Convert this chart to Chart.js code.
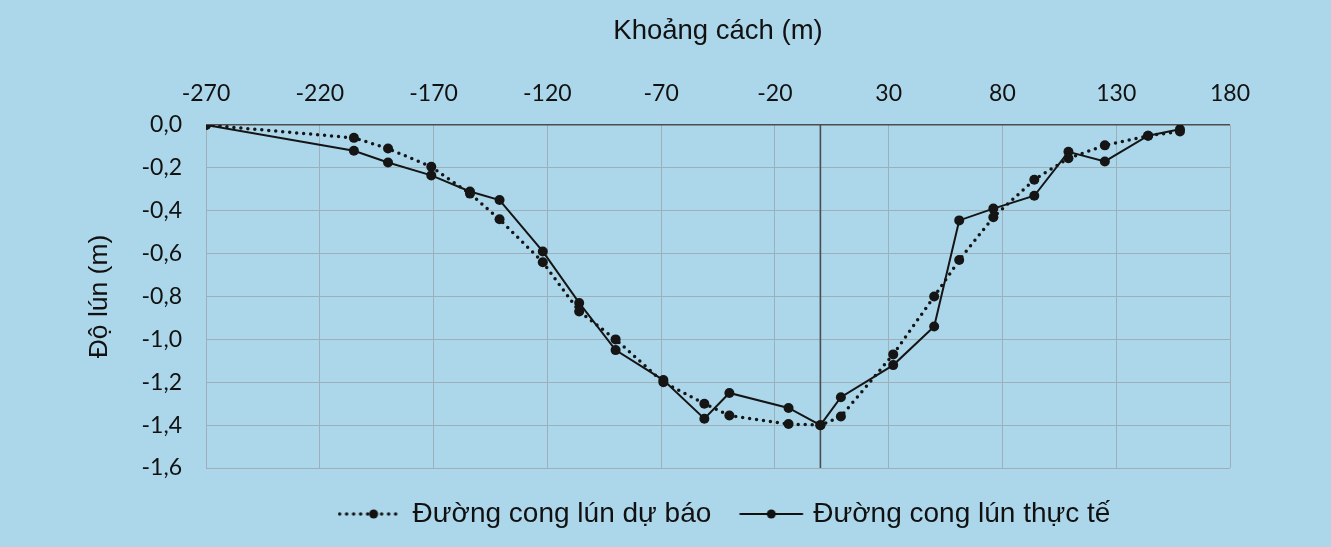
<!DOCTYPE html>
<html>
<head>
<meta charset="utf-8">
<script src="https://cdn.jsdelivr.net/npm/chart.js@4"></script>
<style>
  html, body { margin: 0; padding: 0; background: #acd7ea; }
  #wrap { width: 1331px; height: 547px; }
</style>
</head>
<body>
<div id="wrap"><canvas id="lunChart"></canvas></div>
<script>
// khoang cach (m) va do lun (m), doc tu hinh
const xTicks = [-270, -220, -170, -120, -70, -20, 30, 80, 130, 180];
const distances = [-270, -205, -190, -171, -154, -141, -122, -106, -90, -69, -51, -40, -14, 0, 9, 32, 50, 61, 76, 94, 109, 125, 144, 158];
const forecast = [0, -0.06, -0.11, -0.195, -0.32, -0.44, -0.64, -0.87, -1.0, -1.2, -1.30, -1.355, -1.395, -1.40, -1.36, -1.07, -0.80, -0.63, -0.43, -0.255, -0.155, -0.095, -0.05, -0.03];
const actual = [0, -0.12, -0.175, -0.235, -0.31, -0.35, -0.59, -0.83, -1.05, -1.19, -1.37, -1.25, -1.32, -1.40, -1.27, -1.12, -0.94, -0.445, -0.39, -0.33, -0.125, -0.17, -0.05, -0.02];

const toPoints = ys => distances.map((x, i) => ({ x: x, y: ys[i] }));

// small legend symbols: line + dot
function legendIcon(dotted) {
  const c = document.createElement('canvas');
  c.width = 66; c.height = 16;
  const g = c.getContext('2d');
  g.strokeStyle = '#111';
  g.lineCap = 'round';
  if (dotted) { g.setLineDash([0, 7]); g.lineWidth = 3.5; } else { g.lineWidth = 2; }
  g.beginPath(); g.moveTo(2, 8); g.lineTo(64, 8); g.stroke();
  g.setLineDash([]);
  g.fillStyle = '#111';
  g.beginPath(); g.arc(dotted ? 36 : 33, 8, 4.5, 0, Math.PI * 2); g.fill();
  return c;
}

const legendFix = {
  id: 'legendFix',
  beforeLayout(chart) {
    const lg = chart.legend;
    if (lg && !lg._fixed) {
      const f = lg.fit;
      lg.fit = function () { f.call(this); this.height = 79; };
      lg._fixed = true;
    }
  },
  afterLayout(chart) {
    chart.legend.left = 122;
    chart.legend.right = 1331;
  }
};

// vertical axis crossing at x = 0 (darker line)
const zeroLine = {
  id: 'zeroLine',
  beforeDatasetsDraw(chart) {
    const { ctx, chartArea, scales } = chart;
    const px = scales.x.getPixelForValue(0);
    ctx.save();
    ctx.strokeStyle = '#4d4d4d';
    ctx.lineWidth = 1.6;
    ctx.beginPath();
    ctx.moveTo(px, chartArea.top);
    ctx.lineTo(px, chartArea.bottom);
    ctx.stroke();
    ctx.restore();
  }
};

const gridColor = c => (c.tick && Math.abs(c.tick.value) < 1e-9) ? '#4d4d4d' : '#9db0b9';

let lunChart = new Chart(document.getElementById('lunChart'), {
  type: 'scatter',
  data: {
    datasets: [
      {
        label: 'Đường cong lún dự báo',
        data: toPoints(forecast),
        showLine: true,
        borderColor: '#151515',
        borderWidth: 3.5,
        borderDash: [0, 7],
        borderCapStyle: 'round',
        pointRadius: 5,
        pointBackgroundColor: '#151515',
        pointBorderWidth: 0,
        tension: 0
      },
      {
        label: 'Đường cong lún thực tế',
        data: toPoints(actual),
        showLine: true,
        borderColor: '#151515',
        borderWidth: 2,
        pointRadius: 5,
        pointBackgroundColor: '#151515',
        pointBorderWidth: 0,
        tension: 0
      }
    ]
  },
  plugins: [legendFix, zeroLine],
  options: {
    responsive: true,
    maintainAspectRatio: false,
    animation: false,
    layout: { padding: { left: 0, right: 101, top: 0, bottom: 0 } },
    plugins: {
      tooltip: { enabled: false },
      legend: {
        position: 'bottom',
        labels: {
          usePointStyle: true,
          pointStyleWidth: 56,
          padding: 32,
          color: '#111',
          font: { family: 'Liberation Sans', size: 28 },
          generateLabels: chart => chart.data.datasets.map((ds, i) => ({
            text: ds.label,
            pointStyle: legendIcon(i === 0),
            fillStyle: '#111',
            strokeStyle: '#111',
            lineWidth: 0,
            datasetIndex: i,
            fontColor: '#111'
          }))
        }
      }
    },
    scales: {
      x: {
        type: 'linear',
        position: 'top',
        min: -270,
        max: 180,
        afterBuildTicks: s => { s.ticks = xTicks.map(v => ({ value: v })); },
        afterFit: s => { s.height = 125; },
        ticks: {
          padding: 18,
          color: '#111',
          autoSkip: false,
          maxRotation: 0,
          font: { family: 'Lato', size: 23 }
        },
        grid: {
          color: gridColor,
          lineWidth: 1,
          drawTicks: false
        },
        border: { display: false },
        title: {
          display: true,
          text: 'Khoảng cách (m)',
          color: '#111',
          font: { family: 'Liberation Sans', size: 27.5 },
          padding: { top: 15, bottom: 0 }
        }
      },
      y: {
        min: -1.6,
        max: 0,
        afterFit: s => { s.width = 206; },
        ticks: {
          stepSize: 0.2,
          padding: 24,
          color: '#111',
          font: { family: 'Lato', size: 23 },
          callback: v => (Math.abs(v) < 1e-9 ? 0 : v).toFixed(1).replace('.', ',')
        },
        grid: {
          color: gridColor,
          lineWidth: c => (c.tick && Math.abs(c.tick.value) < 1e-9) ? 1.6 : 1,
          drawTicks: false
        },
        border: { display: false },
        title: {
          display: true,
          text: 'Độ lún (m)',
          color: '#111',
          font: { family: 'Liberation Sans', size: 26.5 },
          padding: { top: 84, bottom: 0 }
        }
      }
    }
  }
});
</script>
</body>
</html>
